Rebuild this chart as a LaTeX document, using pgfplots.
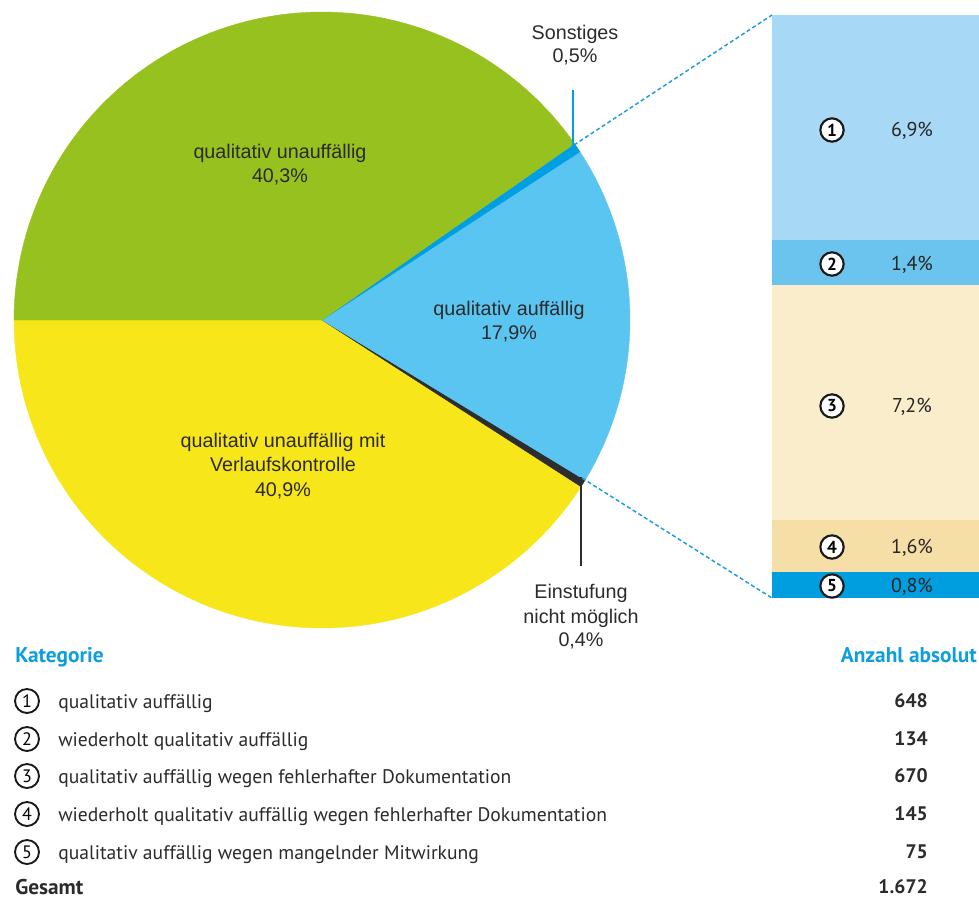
\documentclass[border=0pt]{standalone}
\usepackage{fontspec}
\setmainfont{PT Sans}
\newfontfamily\piefont{Liberation Sans}
\usepackage{pgfplots}
\usepackage{pgfplotstable}
\pgfplotsset{compat=1.18}
\usepgfplotslibrary{polar}

\definecolor{cGreen}{HTML}{97C11F}
\definecolor{cYellow}{HTML}{F7E619}
\definecolor{cBlue}{HTML}{5BC5F2}
\definecolor{cSon}{HTML}{009FE3}
\definecolor{cEin}{HTML}{2D2D2D}
\definecolor{cB1}{HTML}{A7D8F5}
\definecolor{cB2}{HTML}{6AC4EE}
\definecolor{cB3}{HTML}{FAEDCB}
\definecolor{cB4}{HTML}{F5DFA6}
\definecolor{cB5}{HTML}{009DDF}
\definecolor{cHead}{HTML}{0E9EDC}
\definecolor{cTxt}{HTML}{2B2B2B}
\definecolor{cDash}{HTML}{1D9BDB}

% pie shares (percent), counter-clockwise from 180 degrees
\pgfplotstableread{
name pct
yellow 40.9
einst 0.4
blue 17.9
sonst 0.5
green 40.3
}\pietable
% bar-of-pie breakdown (percent), bottom to top
\pgfplotstableread{
cat pct
5 0.8
4 1.6
3 7.2
2 1.4
1 6.9
}\bartable

\begin{document}
\begin{tikzpicture}
\useasboundingbox (0,0) rectangle (734.25pt,-674.25pt);

\pgfplotstablegetelem{0}{pct}\of\pietable \let\pA\pgfplotsretval
\pgfplotstablegetelem{1}{pct}\of\pietable \let\pB\pgfplotsretval
\pgfplotstablegetelem{2}{pct}\of\pietable \let\pC\pgfplotsretval
\pgfplotstablegetelem{3}{pct}\of\pietable \let\pD\pgfplotsretval
\pgfplotstablegetelem{4}{pct}\of\pietable \let\pE\pgfplotsretval
\pgfmathsetmacro\aA{180}
\pgfmathsetmacro\aB{\aA+3.6*\pA}
\pgfmathsetmacro\aC{\aB+3.6*\pB}
\pgfmathsetmacro\aD{\aC+3.6*\pC}
\pgfmathsetmacro\aE{\aD+3.6*\pD}
\pgfmathsetmacro\aF{\aE+3.6*\pE}

\begin{polaraxis}[at={(241.5pt,-240pt)}, anchor=center, hide axis, scale only axis,
  width=462pt, height=462pt, ymin=0, ymax=1, enlargelimits=false, clip=false]
\addplot[fill=cYellow, draw=cYellow, line width=0.3pt, domain=\aA:\aB, samples=120] {1} -- (axis cs:0,0) -- cycle;
\addplot[fill=cEin, draw=cEin, line width=0.3pt, domain=\aB:\aC, samples=5] {1} -- (axis cs:0,0) -- cycle;
\addplot[fill=cBlue, draw=cBlue, line width=0.3pt, domain=\aC:\aD, samples=60] {1} -- (axis cs:0,0) -- cycle;
\addplot[fill=cSon, draw=cSon, line width=0.3pt, domain=\aD:\aE, samples=5] {1} -- (axis cs:0,0) -- cycle;
\addplot[fill=cGreen, draw=cGreen, line width=0.3pt, domain=\aE:\aF, samples=120] {1} -- (axis cs:0,0) -- cycle;
\end{polaraxis}

\begin{axis}[at={(579pt,-448.5pt)}, anchor=south west, scale only axis,
  width=155.25pt, height=437.25pt, xmin=-0.5, xmax=0.5, ymin=0, ymax=17.9,
  hide axis, ybar stacked, bar width=155.25pt, clip=false]
\addplot[fill=cB5, draw=none] table[x expr=0, y=pct, skip coords between index={1}{5}] {\bartable};
\addplot[fill=cB4, draw=none] table[x expr=0, y=pct, skip coords between index={0}{1}, skip coords between index={2}{5}] {\bartable};
\addplot[fill=cB3, draw=none] table[x expr=0, y=pct, skip coords between index={0}{2}, skip coords between index={3}{5}] {\bartable};
\addplot[fill=cB2, draw=none] table[x expr=0, y=pct, skip coords between index={0}{3}, skip coords between index={4}{5}] {\bartable};
\addplot[fill=cB1, draw=none] table[x expr=0, y=pct, skip coords between index={0}{4}] {\bartable};
\end{axis}

\begin{scope}[x=0.75pt,y=-0.75pt,
  pl/.style={font=\piefont\fontsize{14.8pt}{18pt}\selectfont, text=cTxt, anchor=base, inner sep=0pt},
  tb/.style={font=\fontsize{14.7pt}{17pt}\selectfont, text=cTxt, anchor=base west, inner sep=0pt},
  tbb/.style={font=\bfseries\fontsize{16pt}{18pt}\selectfont, text=cHead, anchor=base west, inner sep=0pt},
  cbar/.style={circle, draw=black!90, fill=white, line width=1.6pt, minimum size=17.5pt, inner sep=0pt, font=\bfseries\fontsize{13pt}{13pt}\selectfont, text=black},
  ctab/.style={circle, draw=black!90, line width=1.4pt, minimum size=18pt, inner sep=0pt, font=\fontsize{13.5pt}{13pt}\selectfont, text=black},
  bl/.style={font=\fontsize{15pt}{15pt}\selectfont, text=black!85, anchor=center}]

% pie labels
\node[pl] at (280,158) {qualitativ unauffällig};
\node[pl] at (280,182) {40,3\%};
\node[pl] at (509,315) {qualitativ auffällig};
\node[pl] at (509,339) {17,9\%};
\node[pl] at (283,447) {qualitativ unauffällig mit};
\node[pl] at (283,471) {Verlaufskontrolle};
\node[pl] at (283,496) {40,9\%};
\node[pl] at (575,40) {Sonstiges};
\node[pl] at (575,63) {0,5\%};
\node[pl] at (581,598) {Einstufung};
\node[pl] at (581,623) {nicht möglich};
\node[pl] at (581,646) {0,4\%};

% leader lines
\draw[cSon, line width=1.5pt] (573,90) -- (573,146);
\draw[cEin, line width=1.5pt] (581,477) -- (581,566);

% connectors
\draw[cDash, line width=1.1pt, dash pattern=on 3pt off 2pt] (574,145) -- (772,15);
\draw[cDash, line width=1.1pt, dash pattern=on 3pt off 2pt] (582,478) -- (772,598);

% bar labels
\node[cbar] at (832,130) {1};
\node[cbar] at (832,264) {2};
\node[cbar] at (832,406) {3};
\node[cbar] at (832,547) {4};
\node[cbar] at (832,586) {5};
\node[bl] at (912,131) {6,9\%};
\node[bl] at (912,265) {1,4\%};
\node[bl] at (912,407) {7,2\%};
\node[bl] at (912,548) {1,6\%};
\node[bl] at (912,587) {0,8\%};

% table
\node[tbb] at (15,662) {Kategorie};
\node[tbb, anchor=base east] at (977,662) {Anzahl absolut};
\node[ctab] at (27,701) {1};
\node[ctab] at (27,739) {2};
\node[ctab] at (27,776) {3};
\node[ctab] at (27,814) {4};
\node[ctab] at (27,852) {5};
\node[tb] at (58,708) {qualitativ auffällig};
\node[tb] at (58,746) {wiederholt qualitativ auffällig};
\node[tb] at (58,783) {qualitativ auffällig wegen fehlerhafter Dokumentation};
\node[tb] at (58,821) {wiederholt qualitativ auffällig wegen fehlerhafter Dokumentation};
\node[tb] at (58,859) {qualitativ auffällig wegen mangelnder Mitwirkung};
\node[tbb, text=cTxt] at (15,894) {Gesamt};
\begin{scope}[every node/.style={tb, anchor=base east, font=\bfseries\fontsize{14.7pt}{17pt}\selectfont}]
\node at (928,707) {648};
\node at (928,745) {134};
\node at (928,782) {670};
\node at (928,820) {145};
\node at (928,858) {75};
\node at (928,893) {1.672};
\end{scope}
\end{scope}
\end{tikzpicture}
\end{document}
